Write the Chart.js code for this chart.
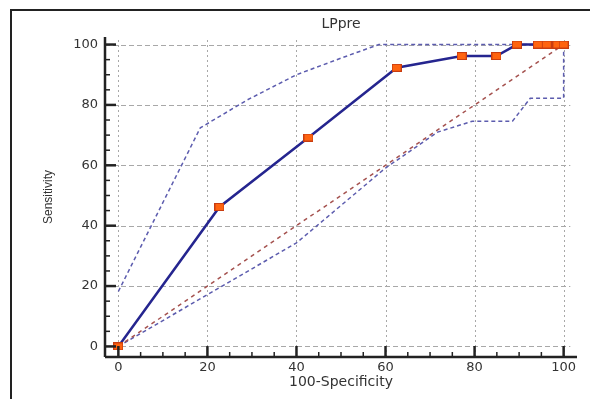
<!DOCTYPE html>
<html>
<head>
<meta charset="utf-8">
<script src="https://cdn.jsdelivr.net/npm/chart.js@4.4.1/dist/chart.umd.min.js"></script>
<style>
  html, body { margin: 0; padding: 0; background: #fff; }
  #wrap { width: 590px; height: 399px; position: relative; }
</style>
</head>
<body>
<div id="wrap"><canvas id="roc"></canvas></div>
<script>
const xTicks = [0, 20, 40, 60, 80, 100];
const yTicks = [0, 20, 40, 60, 80, 100];

// ROC curve (100-Specificity, Sensitivity)
const rocX = [0, 22.7, 42.7, 62.5, 77.1, 84.9, 89.5, 94.2, 96.2, 98.6, 100];
const rocY = [0, 46.2, 69.2, 92.3, 96.2, 96.2, 100, 100, 100, 100, 100];

// confidence bounds
const upperX = [0, 18.4, 29, 40, 50, 58.5, 100];
const upperY = [18.2, 72.4, 81.7, 90, 95.5, 100, 100];
const lowerX = [0, 40, 60, 71.7, 79.5, 88.5, 92.5, 100, 100];
const lowerY = [0, 34.3, 59.1, 71, 74.6, 74.6, 82.2, 82.2, 100];

// chance line
const diagX = [0, 100];
const diagY = [0, 100];

const toPoints = (xs, ys) => xs.map((x, i) => ({ x: x, y: ys[i] }));

// orange square marker
const marker = document.createElement('canvas');
marker.width = 10;
marker.height = 8;
(() => {
    const m = marker.getContext('2d');
    m.fillStyle = '#ff6410';
    m.fillRect(0, 0, 10, 8);
    m.strokeStyle = '#c83c10';
    m.lineWidth = 1;
    m.strokeRect(0.5, 0.5, 9, 7);
})();

const framePlugin = {
    id: 'frame',
    beforeDraw(chart) {
        const ctx = chart.ctx;
        ctx.save();
        ctx.fillStyle = '#fff';
        ctx.fillRect(0, 0, chart.width, chart.height);
        ctx.fillStyle = '#222';
        ctx.fillRect(10, 9, chart.width - 10, 2);
        ctx.fillRect(10, 9, 2, chart.height - 9);
        ctx.restore();
    },
    beforeDatasetsDraw(chart) {
        const { ctx, chartArea: a, scales: { x, y } } = chart;
        const line = (x1, y1, x2, y2) => {
            ctx.beginPath();
            ctx.moveTo(x1, y1);
            ctx.lineTo(x2, y2);
            ctx.stroke();
        };
        ctx.save();
        ctx.strokeStyle = '#a8a8a8';
        ctx.lineWidth = 1;
        ctx.setLineDash([5, 3]);
        yTicks.forEach(v => {
            const py = Math.round(y.getPixelForValue(v)) + 0.5;
            line(a.left, py, x.getPixelForValue(101.5), py);
        });
        ctx.setLineDash([2, 3]);
        xTicks.forEach(v => {
            const px = Math.round(x.getPixelForValue(v)) + 0.5;
            line(px, a.bottom, px, y.getPixelForValue(101.5));
        });
        ctx.restore();
    },
    afterDraw(chart) {
        const { ctx, chartArea: a, scales: { x, y } } = chart;
        const line = (x1, y1, x2, y2) => {
            ctx.beginPath();
            ctx.moveTo(x1, y1);
            ctx.lineTo(x2, y2);
            ctx.stroke();
        };
        ctx.save();
        ctx.strokeStyle = '#222';
        ctx.lineWidth = 2.5;
        line(a.left, a.top, a.left, a.bottom);
        line(a.left, a.bottom, a.right, a.bottom);
        // major ticks every 20, minor every 5, pointing inward
        for (let v = 0; v <= 100; v += 5) {
            const major = v % 20 === 0;
            const len = major ? 11 : 5;
            ctx.lineWidth = major ? 2.5 : 1.5;
            const py = y.getPixelForValue(v);
            const px = x.getPixelForValue(v);
            line(a.left, py, a.left + len, py);
            line(px, a.bottom, px, a.bottom - len);
        }
        ctx.restore();
    }
};

const tickFont = { family: 'DejaVu Sans', size: 13 };

new Chart(document.getElementById('roc'), {
    type: 'scatter',
    data: {
        datasets: [{
            data: toPoints(rocX, rocY),
            showLine: true,
            borderColor: '#25258f',
            borderWidth: 2.5,
            pointStyle: marker,
            pointRadius: 5
        }, {
            data: toPoints(diagX, diagY),
            showLine: true,
            borderColor: '#a5524f',
            borderWidth: 1.5,
            borderDash: [4, 4],
            pointRadius: 0
        }, {
            data: toPoints(upperX, upperY),
            showLine: true,
            borderColor: '#5c5cae',
            borderWidth: 1.5,
            borderDash: [4, 3],
            pointRadius: 0
        }, {
            data: toPoints(lowerX, lowerY),
            showLine: true,
            borderColor: '#5c5cae',
            borderWidth: 1.5,
            borderDash: [4, 3],
            pointRadius: 0
        }]
    },
    options: {
        responsive: true,
        maintainAspectRatio: false,
        animation: false,
        events: [],
        layout: { padding: { top: 0, right: 13, bottom: 0, left: 0 } },
        plugins: {
            legend: { display: false },
            tooltip: { enabled: false },
            title: {
                display: true,
                text: 'LPpre',
                fullSize: false,
                color: '#333',
                font: { family: 'DejaVu Sans', size: 14, weight: 'normal' },
                padding: { top: 16, bottom: 4.2 }
            }
        },
        scales: {
            x: {
                type: 'linear',
                min: -3,
                max: 103,
                afterBuildTicks: s => { s.ticks = xTicks.map(v => ({ value: v })); },
                afterFit: s => { s.height = 42; },
                grid: { display: false, drawTicks: false },
                border: { display: false },
                ticks: { color: '#333', font: tickFont, padding: 3, maxRotation: 0 },
                title: {
                    display: true,
                    text: '100-Specificity',
                    color: '#333',
                    font: { family: 'DejaVu Sans', size: 14 },
                    padding: { top: 0, bottom: 8 }
                }
            },
            y: {
                type: 'linear',
                min: -3.5,
                max: 102.5,
                afterBuildTicks: s => { s.ticks = yTicks.map(v => ({ value: v })); },
                afterFit: s => { s.width = 105; },
                grid: { display: false, drawTicks: false },
                border: { display: false },
                ticks: { color: '#333', font: tickFont, padding: 7 },
                title: {
                    display: true,
                    text: 'Sensitivity',
                    color: '#333',
                    font: { family: 'Liberation Sans', size: 12 },
                    padding: { top: 41, bottom: 0 }
                }
            }
        }
    },
    plugins: [framePlugin]
});
</script>
</body>
</html>
